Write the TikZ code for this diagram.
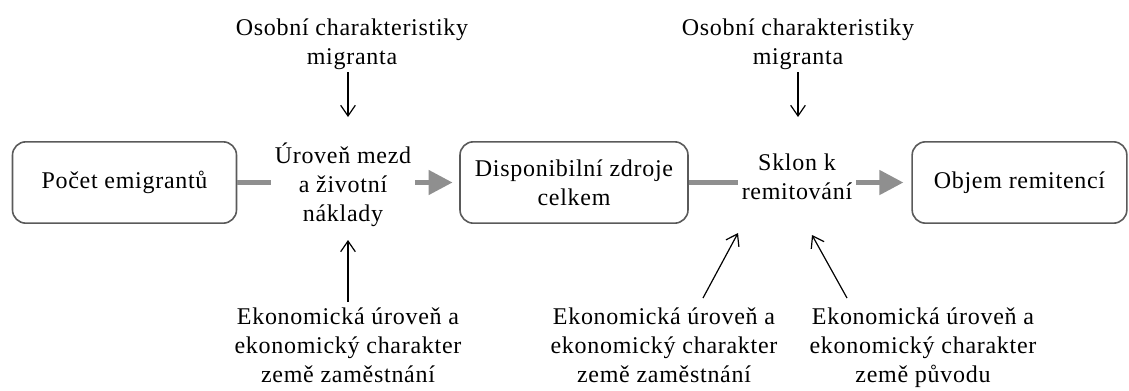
\documentclass[tikz,border=0pt]{standalone}
\usepackage{fontspec}
\setmainfont[LetterSpace=3]{Liberation Serif}
\usetikzlibrary{arrows.meta}
\definecolor{boxgray}{HTML}{5A5A5A}
\definecolor{arrgray}{HTML}{8F8F8F}
\tikzset{
  lbl/.style={align=center, inner sep=3pt, font=\fontsize{18pt}{21.75pt}\selectfont},
  stagebox/.style={lbl, draw=boxgray, line width=1.2pt, rounded corners=10pt, minimum height=61pt},
  greyline/.style={draw=arrgray, line width=3.6pt},
  greyarr/.style={greyline, -{Triangle[length=18pt,width=18pt]}},
  thinarr/.style={draw=black, line width=0.9pt, -{Straight Barb[length=8pt,width=11pt]}}
}
\begin{document}
\begin{tikzpicture}[x=0.75pt,y=-0.75pt]
\useasboundingbox (0,0) rectangle (1129,390);
% main row
\node[stagebox, minimum width=168pt] (b1) at (124.5,182.5) {Počet emigrantů};
\node[lbl] (t1) at (343,185) {Úroveň mezd\\a životní\\náklady};
\node[stagebox, minimum width=171pt] (b2) at (574,182.5) {Disponibilní zdroje\\celkem};
\node[lbl] (t2) at (797,177) {Sklon k\\remitování};
\node[stagebox, minimum width=161pt] (b3) at (1019.5,182.5) {Objem remitencí};
% top
\node[lbl] (top1) at (352,44) {Osobní charakteristiky\\migranta};
\node[lbl] (top2) at (798,44) {Osobní charakteristiky\\migranta};
% bottom
\node[lbl, anchor=north] (bot1) at (348,304) {Ekonomická úroveň a\\ekonomický charakter\\země zaměstnání};
\node[lbl, anchor=north] (bot2) at (664,304) {Ekonomická úroveň a\\ekonomický charakter\\země zaměstnání};
\node[lbl, anchor=north] (bot3) at (923,304) {Ekonomická úroveň a\\ekonomický charakter\\země původu};
% grey connectors
\draw[greyline] (b1.east) -- (b1.east -| t1.west);
\draw[greyarr, shorten >=5pt] (b1.east -| t1.east) -- (b2.west);
\draw[greyline] (b2.east) -- (b2.east -| t2.west);
\draw[greyarr, shorten >=6pt] (b2.east -| t2.east) -- (b3.west);
% thin arrows
\coordinate (a1s) at (348,72);  \coordinate (a1e) at (348,117);
\coordinate (a2s) at (798,72);  \coordinate (a2e) at (798,117);
\coordinate (a3s) at (348,302); \coordinate (a3e) at (348,240);
\coordinate (a4s) at (703,298); \coordinate (a4e) at (738,233);
\coordinate (a5s) at (847,298); \coordinate (a5e) at (812,235);
\draw[thinarr] (a1s) -- (a1e);
\draw[thinarr] (a2s) -- (a2e);
\draw[thinarr] (a3s) -- (a3e);
\draw[thinarr] (a4s) -- (a4e);
\draw[thinarr] (a5s) -- (a5e);
\end{tikzpicture}
\end{document}
